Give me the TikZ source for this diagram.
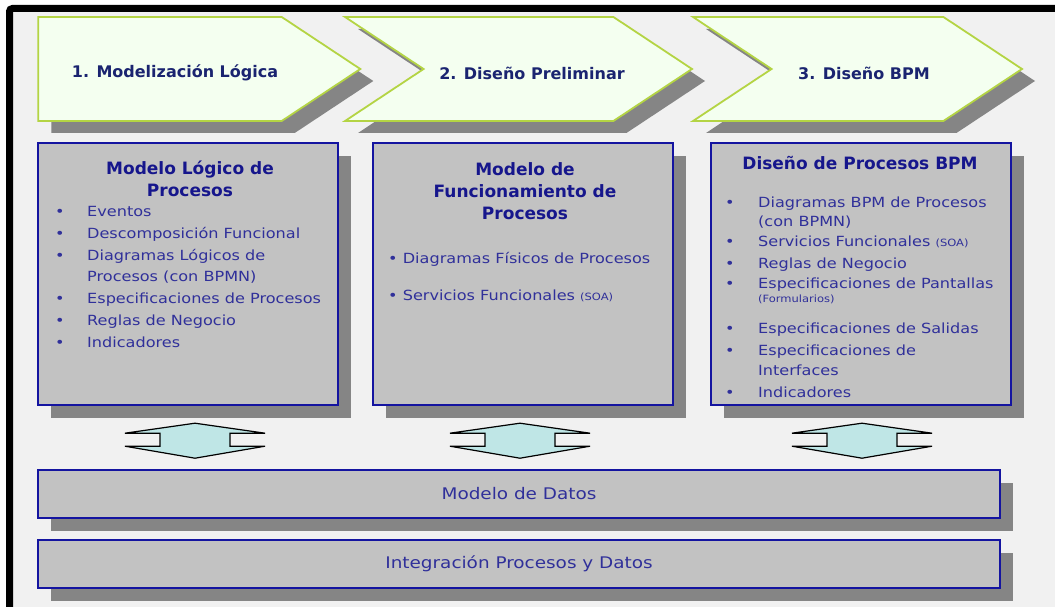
\documentclass[tikz,border=0pt]{standalone}
\usepackage{fontspec}
\setmainfont{DejaVu Sans}
\newfontfamily\itemfont[FakeStretch=1.15]{DejaVu Sans}
\usetikzlibrary{shapes.symbols,shadows,positioning}

\definecolor{BackGray}{HTML}{F1F1F1}
\definecolor{ChevFill}{HTML}{F4FFF0}
\definecolor{ChevLine}{HTML}{B4D444}
\definecolor{ChevText}{HTML}{1A2470}
\definecolor{BoxFill}{HTML}{C2C2C2}
\definecolor{BoxLine}{HTML}{1414A0}
\definecolor{ShadowGray}{HTML}{858585}
\definecolor{TitleBlue}{HTML}{16168C}
\definecolor{ItemBlue}{HTML}{30309A}
\definecolor{LinkFill}{HTML}{BFE6E6}

\newcommand{\SmallNote}[1]{{\fontsize{10}{12}\selectfont #1}}

\tikzset{
Phase/.style={signal, signal to=east, signal pointer angle=67, draw=ChevLine, fill=ChevFill,
        line width=1.8pt, minimum height=104pt, inner sep=0pt,
        drop shadow={shadow xshift=13pt, shadow yshift=-12pt, fill=ShadowGray, opacity=1}},
PhaseTitle/.style={font=\fontsize{16}{19}\selectfont\bfseries, text=ChevText},
ProcBox/.style={draw=BoxLine, fill=BoxFill, line width=2.4pt, minimum width=300pt, minimum height=262pt,
        drop shadow={shadow xshift=13pt, shadow yshift=-13pt, fill=ShadowGray, opacity=1}},
DataBar/.style={draw=BoxLine, fill=BoxFill, line width=2.4pt, minimum width=962pt, minimum height=48pt,
        drop shadow={shadow xshift=13pt, shadow yshift=-13pt, fill=ShadowGray, opacity=1},
        font=\itemfont\fontsize{16}{19}\selectfont, text=ItemBlue},
BoxTitle/.style={font=\fontsize{17}{22}\selectfont\bfseries, text=TitleBlue, align=center, inner sep=0pt},
Item/.style={font=\itemfont\fontsize{14}{17}\selectfont, text=ItemBlue, anchor=base west, inner sep=0pt},
Link/.style={draw=black, line width=1.2pt, fill=LinkFill},
}

\begin{document}
\begin{tikzpicture}[x=1pt, y=-1pt]
	\useasboundingbox (0,0) rectangle (1055,607);
	\fill[white] (0,0) rectangle (1055,607);
	\fill[BackGray] (12,12) rectangle (1055,607);
	\draw[line width=7pt, rounded corners=3pt] (9.5,607) -- (9.5,8.5) -- (1055,8.5);

	% phases
	\node[Phase, minimum width=322pt] (P1) at (160,69) {};
	\node[Phase, signal from=west, minimum width=347pt] (P2) at (518.5,69) {};
	\node[Phase, signal from=west, minimum width=329pt] (P3) at (857.5,69) {};
	\node[PhaseTitle] (T1) at (175,73) {1. Modelización Lógica};
	\node[PhaseTitle] (T2) at (532,73) {2. Diseño Preliminar};
	\node[PhaseTitle] (T3) at (864,73) {3. Diseño BPM};

	% models
	\foreach \b/\x in {1/188, 2/523, 3/861}
		\node[ProcBox] (B\b) at (\x,274) {};

	\node[BoxTitle] (H1) at (190,179) {Modelo Lógico de\\Procesos};
	\node[BoxTitle] (H2) at (525,191) {Modelo de\\Funcionamiento de\\Procesos};
	\node[BoxTitle] (H3) at (860,163) {Diseño de Procesos BPM};

	\foreach \y/\bul/\txt [count=\i] in {216/\textbullet/Eventos, 238/\textbullet/Descomposición Funcional,
			260/\textbullet/Diagramas Lógicos de, 281/{}/Procesos (con BPMN),
			303/\textbullet/Especificaciones de Procesos, 325/\textbullet/Reglas de Negocio,
			347/\textbullet/Indicadores}
		\node[Item] (L1-\i) at (55,\y) {\makebox[32pt][l]{\bul}\txt};

	\node[Item] (L2-1) at (388,263) {\textbullet\ Diagramas Físicos de Procesos};
	\node[Item] (L2-2) at (388,300) {\textbullet\ Servicios Funcionales \SmallNote{(SOA)}};

	\foreach \y/\bul/\txt [count=\i] in {207/\textbullet/Diagramas BPM de Procesos, 226/{}/(con BPMN),
			246/\textbullet/Servicios Funcionales \SmallNote{(SOA)}, 268/\textbullet/Reglas de Negocio,
			288/\textbullet/Especificaciones de Pantallas, 302/{}/\SmallNote{(Formularios)},
			333/\textbullet/Especificaciones de Salidas, 355/\textbullet/Especificaciones de,
			375/{}/Interfaces, 397/\textbullet/Indicadores}
		\node[Item] (L3-\i) at (725,\y) {\makebox[33pt][l]{\bul}\txt};

	% exchange arrows
	\foreach \b/\dx in {1/7, 2/-3, 3/1}
		\draw[Link, shift={(B\b.south)}, xshift=\dx] (-35,40) -- (-70,40) -- (0,52) -- (70,40) -- (35,40)
			-- (35,27) -- (70,27) -- (0,17) -- (-70,27) -- (-35,27) -- cycle;

	% data layers
	\node[DataBar] (D1) at (519,494) {Modelo de Datos};
	\node[DataBar, below=19.6pt of D1] (D2) {Integración Procesos y Datos};
\end{tikzpicture}
\end{document}
